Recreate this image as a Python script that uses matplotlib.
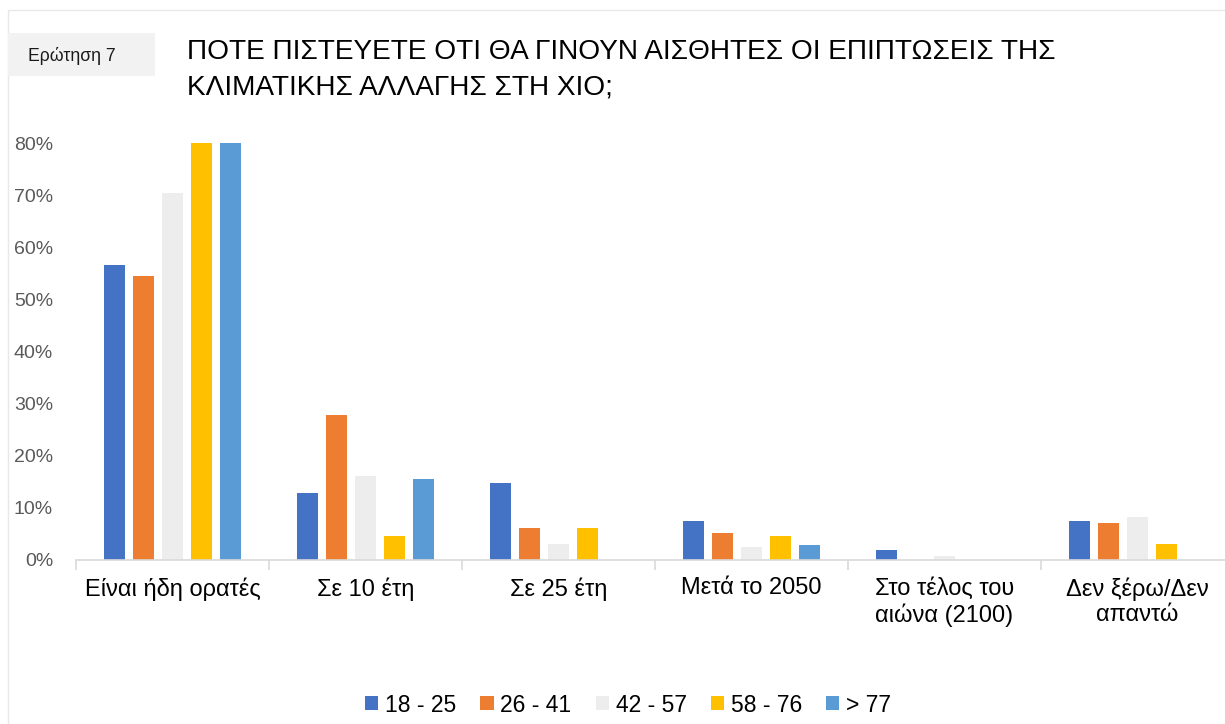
import matplotlib
matplotlib.use("Agg")
import matplotlib.pyplot as plt
from matplotlib.patches import Rectangle
import numpy as np

plt.rcParams['font.family'] = ['Liberation Sans', 'DejaVu Sans']

categories = ["Είναι ήδη ορατές", "Σε 10 έτη", "Σε 25 έτη", "Μετά το 2050",
              "Στο τέλος του\nαιώνα (2100)", "Δεν ξέρω/Δεν\nαπαντώ"]
series_names = ["18 - 25", "26 - 41", "42 - 57", "58 - 76", "> 77"]
v_18_25 = [0.565, 0.128, 0.147, 0.075, 0.019, 0.075]
v_26_41 = [0.545, 0.279, 0.061, 0.052, 0.0, 0.071]
v_42_57 = [0.704, 0.161, 0.031, 0.025, 0.008, 0.082]
v_58_76 = [0.80, 0.046, 0.061, 0.046, 0.0, 0.031]
v_gt_77 = [0.80, 0.155, 0.0, 0.029, 0.0, 0.0]
series = [v_18_25, v_26_41, v_42_57, v_58_76, v_gt_77]
colors = ["#4472C4", "#ED7D31", "#EDEDED", "#FFC000", "#5B9BD5"]
yticks = [0, 0.1, 0.2, 0.3, 0.4, 0.5, 0.6, 0.7, 0.8]
ytick_labels = ["0%", "10%", "20%", "30%", "40%", "50%", "60%", "70%", "80%"]

W, H = 1225, 724
fig = plt.figure(figsize=(W / 100, H / 100), dpi=100)

# outer border of chart area
fig.patches.append(Rectangle((8 / W, -0.1), 1.2, 1 - 10 / H + 0.1, transform=fig.transFigure,
                             fill=False, edgecolor="#e8e8e8", linewidth=1.0))

# question label box
fig.patches.append(Rectangle((8 / W, 1 - 76 / H), (155 - 8) / W, (76 - 33) / H,
                             transform=fig.transFigure, facecolor="#f2f2f2", edgecolor="none"))
fig.text(28 / W, 1 - 56 / H, "Ερώτηση 7", fontsize=12.7, color="#1a1a1a", va="center", ha="left")

fig.text(187 / W, 1 - 52 / H, "ΠΟΤΕ ΠΙΣΤΕΥΕΤΕ ΟΤΙ ΘΑ ΓΙΝΟΥΝ ΑΙΣΘΗΤΕΣ ΟΙ ΕΠΙΠΤΩΣΕΙΣ ΤΗΣ",
         fontsize=20.2, color="#000000", va="center", ha="left")
fig.text(187 / W, 1 - 88 / H, "ΚΛΙΜΑΤΙΚΗΣ ΑΛΛΑΓΗΣ ΣΤΗ ΧΙΟ;",
         fontsize=20.2, color="#000000", va="center", ha="left")

left_px, right_px, top_px, bottom_px = 76, 1234, 143, 560
ax = fig.add_axes([left_px / W, 1 - bottom_px / H, (right_px - left_px) / W, (bottom_px - top_px) / H])

x = np.arange(len(categories))
step = 0.150
width = 0.109
handles = []
for i, (vals, c, name) in enumerate(zip(series, colors, series_names)):
    b = ax.bar(x + (i - 2) * step, vals, width=width, color=c, label=name, zorder=2)
    handles.append(b)

ax.set_xlim(-0.5, len(categories) - 0.5)
ax.set_ylim(0, 0.8)
ax.set_yticks(yticks)
ax.set_yticklabels(ytick_labels, fontsize=14, color="#595959")
ax.tick_params(axis="y", length=0, pad=16.5)

ax.set_xticks(np.arange(-0.5, len(categories)), minor=False)
ax.set_xticklabels([])
ax.tick_params(axis="x", which="major", length=7, color="#d9d9d9", width=1.2)
ax.set_xticks(x, minor=True)
ax.set_xticklabels(categories, minor=True, fontsize=17, color="#000000", linespacing=1.2, va="top")
ax.tick_params(axis="x", which="minor", length=0, pad=12.5)

for s in ["top", "right", "left"]:
    ax.spines[s].set_visible(False)
ax.spines["bottom"].set_color("#d9d9d9")
ax.spines["bottom"].set_linewidth(1.2)
ax.spines["bottom"].set_zorder(3)

fig.legend(handles=handles, labels=series_names, loc="center", ncol=5,
           bbox_to_anchor=(628 / W, 1 - 705 / H), frameon=False, fontsize=16.5,
           handlelength=0.57, handleheight=0.57, handletextpad=0.3, columnspacing=1.05)

fig.savefig("out.png", dpi=100)
